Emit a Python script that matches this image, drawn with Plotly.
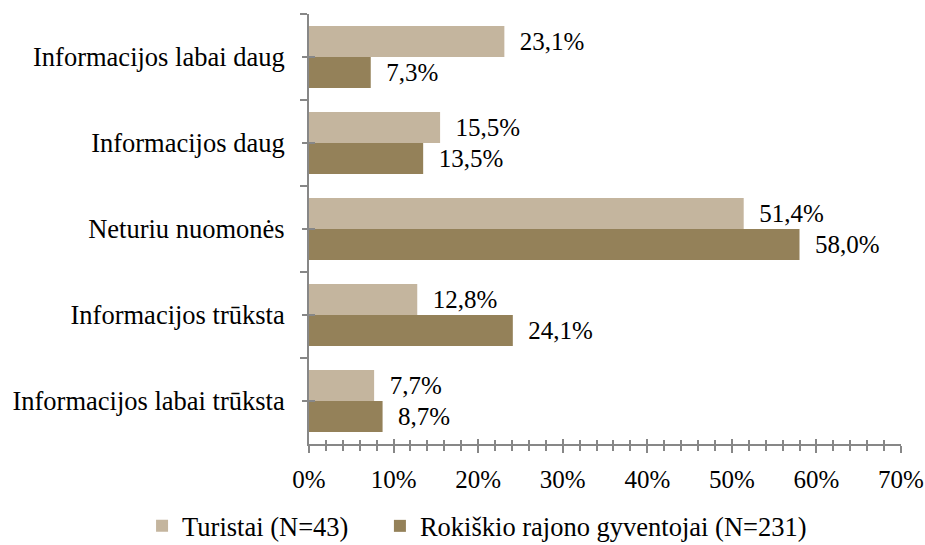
import plotly.graph_objects as go

categories = ["Informacijos labai daug", "Informacijos daug", "Neturiu nuomonės",
              "Informacijos trūksta", "Informacijos labai trūksta"]
turistai = [23.1, 15.5, 51.4, 12.8, 7.7]
rokiskio = [7.3, 13.5, 58.0, 24.1, 8.7]
series_names = ["Turistai (N=43)", "Rokiškio rajono gyventojai (N=231)"]
x_ticks = [0, 10, 20, 30, 40, 50, 60, 70]
x_tick_text = [f"{v}%" for v in x_ticks]

FONT = "Liberation Serif"
FS = 25        # data labels, x ticks
FS_CAT = 26.5  # category labels, legend
AX = "#878787"
c_light = "#C4B59E"
c_dark = "#948159"

fig = go.Figure()
legend_pad = ["\u00a0\u00a0\u00a0\u00a0", ""]
for i, (name, vals, col) in enumerate([(series_names[0], turistai, c_light), (series_names[1], rokiskio, c_dark)]):
    fig.add_trace(go.Bar(
        name=name + legend_pad[i], y=categories, x=vals, orientation="h",
        marker=dict(color=col, line=dict(width=0)),
        texttemplate="\u00a0\u00a0%{x:.1f}%", textposition="outside",
        textfont=dict(family=FONT, size=FS, color="black"),
        cliponaxis=False,
    ))

idx = list(range(len(categories)))
fig.add_trace(go.Scatter(x=[None], y=[None], xaxis="x2", yaxis="y2", showlegend=False, hoverinfo="skip"))
fig.add_trace(go.Scatter(x=[None], y=[None], xaxis="x2", yaxis="y3", showlegend=False, hoverinfo="skip"))

fig.update_layout(
    width=925, height=545,
    margin=dict(l=309, r=24, t=14, b=101, autoexpand=False),
    paper_bgcolor="white", plot_bgcolor="white",
    barmode="group", bargap=0.28, bargroupgap=0,
    separators=", ",
    font=dict(family=FONT, size=FS, color="black"),
    showlegend=True,
    legend=dict(orientation="h", x=-0.282, xanchor="left", y=-0.191, yanchor="middle",
                font=dict(family=FONT, size=FS_CAT, color="black"), itemwidth=30),
    xaxis=dict(range=[0, 70], tickvals=x_ticks, ticktext=x_tick_text, showgrid=False, zeroline=False,
               showline=True, linecolor=AX, linewidth=2, automargin=False,
               ticks="outside", ticklen=7, tickwidth=2, tickcolor=AX, ticklabelstandoff=5,
               tickfont=dict(family=FONT, size=FS, color="black"),
               minor=dict(dtick=2, ticks="outside", ticklen=5, tickwidth=2, tickcolor=AX, showgrid=False)),
    xaxis2=dict(range=[0, 70], overlaying="x", anchor="y", side="bottom", showgrid=False, zeroline=False,
                showticklabels=False, tickvals=x_ticks, automargin=False,
                ticks="inside", ticklen=5, tickwidth=2, tickcolor=AX,
                minor=dict(dtick=2, ticks="inside", ticklen=4, tickwidth=2, tickcolor=AX, showgrid=False)),
    yaxis=dict(type="category", categoryorder="array", categoryarray=categories,
               range=[len(categories) - 0.5, -0.5], showgrid=False, zeroline=False,
               showline=True, linecolor=AX, linewidth=2, automargin=False,
               tickson="boundaries", ticks="outside", ticklen=7, tickwidth=2, tickcolor=AX,
               ticklabelstandoff=17, tickfont=dict(family=FONT, size=FS_CAT, color="black")),
    yaxis2=dict(range=[len(categories) - 0.5, -0.5], overlaying="y", anchor="x", side="left",
                tickvals=idx, showticklabels=False, showgrid=False, zeroline=False, automargin=False,
                ticks="inside", ticklen=6, tickwidth=2, tickcolor=AX),
    yaxis3=dict(range=[len(categories) - 0.5, -0.5], overlaying="y", anchor="x", side="left",
                tickvals=idx, showticklabels=False, showgrid=False, zeroline=False, automargin=False,
                ticks="outside", ticklen=6, tickwidth=2, tickcolor=AX),
)

fig.write_html("out.html", config={"displayModeBar": False},
               post_script="document.body.style.margin='0';document.body.style.overflow='hidden';")
